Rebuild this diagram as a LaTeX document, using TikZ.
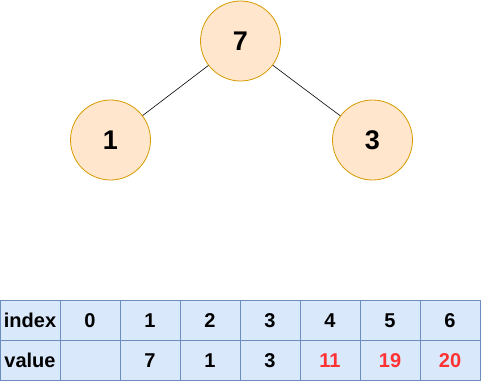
\documentclass[tikz,border=0pt]{standalone}
\usepackage{fontspec}
\setmainfont{Liberation Sans}
\definecolor{nodefill}{HTML}{FFE6CC}
\definecolor{nodedraw}{HTML}{D79B00}
\definecolor{cellfill}{HTML}{DAE8FC}
\definecolor{celldraw}{HTML}{6C8EBF}
\definecolor{redtxt}{HTML}{FF3333}
\begin{document}
\begin{tikzpicture}[x=1pt,y=-1pt,
  treenode/.style={circle,draw=nodedraw,fill=nodefill,line width=0.8pt,minimum size=80pt,inner sep=0pt,font=\fontsize{27}{30}\selectfont\bfseries},
  cell/.style={rectangle,draw=celldraw,fill=cellfill,line width=0.8pt,minimum width=60pt,minimum height=40pt,inner sep=0pt,font=\fontsize{20}{24}\selectfont\bfseries},
  edge/.style={draw=black,line width=0.6pt}]
\useasboundingbox (0,0) rectangle (481,381);
\node[treenode] (n7) at (240.5,41) {7};
\node[treenode] (n1) at (110.5,140) {1};
\node[treenode] (n3) at (372.5,140) {3};
\draw[edge] (n7) -- (n1);
\draw[edge] (n7) -- (n3);
\node[cell] (i0) at (30,320.5) {index};
\node[cell] (i1) at (90,320.5) {0};
\node[cell] (i2) at (150,320.5) {1};
\node[cell] (i3) at (210,320.5) {2};
\node[cell] (i4) at (270,320.5) {3};
\node[cell] (i5) at (330,320.5) {4};
\node[cell] (i6) at (390,320.5) {5};
\node[cell] (i7) at (450,320.5) {6};
\node[cell] (v0) at (30,360.5) {value};
\node[cell] (v1) at (90,360.5) {};
\node[cell] (v2) at (150,360.5) {7};
\node[cell] (v3) at (210,360.5) {1};
\node[cell] (v4) at (270,360.5) {3};
\node[cell,text=redtxt] (v5) at (330,360.5) {11};
\node[cell,text=redtxt] (v6) at (390,360.5) {19};
\node[cell,text=redtxt] (v7) at (450,360.5) {20};
\end{tikzpicture}
\end{document}
